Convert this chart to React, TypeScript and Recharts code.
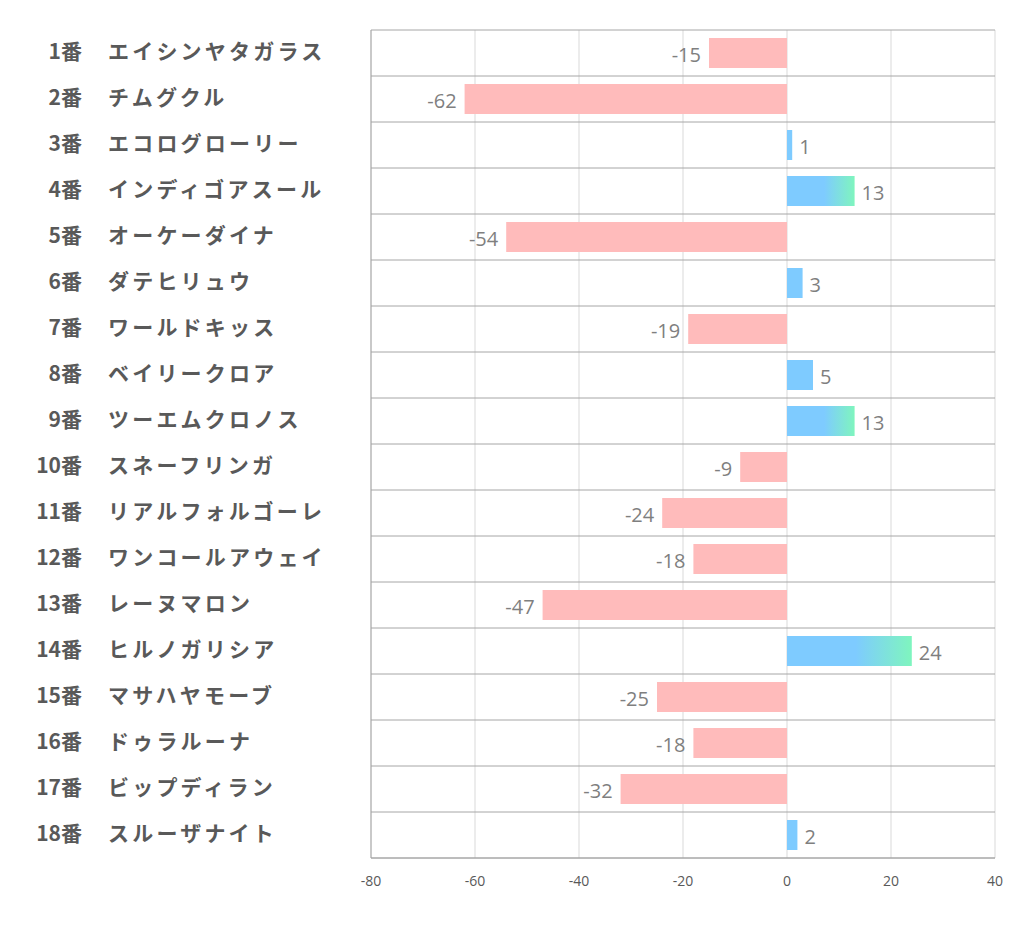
import React from 'react';
import { BarChart, Bar, XAxis, YAxis, CartesianGrid, Cell, LabelList } from 'recharts';

const horseNos = ['1番', '2番', '3番', '4番', '5番', '6番', '7番', '8番', '9番', '10番', '11番', '12番', '13番', '14番', '15番', '16番', '17番', '18番'];
const horseNames = [
  'エイシンヤタガラス', 'チムグクル', 'エコログローリー', 'インディゴアスール', 'オーケーダイナ', 'ダテヒリュウ',
  'ワールドキッス', 'ベイリークロア', 'ツーエムクロノス', 'スネーフリンガ', 'リアルフォルゴーレ', 'ワンコールアウェイ',
  'レーヌマロン', 'ヒルノガリシア', 'マサハヤモーブ', 'ドゥラルーナ', 'ビップディラン', 'スルーザナイト',
];
const values = [-15, -62, 1, 13, -54, 3, -19, 5, 13, -9, -24, -18, -47, 24, -25, -18, -32, 2];
const xTicks = [-80, -60, -40, -20, 0, 20, 40];

const data = horseNames.map((n, i) => ({ key: horseNos[i], name: n, value: values[i] }));

const PINK = '#FFBBBB';
const BLUE = '#7ECBFF';

const YTick = (props: any) => {
  const { y, payload } = props;
  const idx = horseNos.indexOf(payload.value);
  return (
    <g>
      <text x={74} y={y - 3} textAnchor="end" dominantBaseline="central" fill="#595959" fontSize={21} fontWeight="bold" fontFamily="'Noto Sans CJK JP', sans-serif">
        {horseNos[idx]}
      </text>
      <text x={100} y={y - 3} textAnchor="start" dominantBaseline="central" fill="#595959" fontSize={21} fontWeight="bold" letterSpacing={3.2} fontFamily="'Noto Sans CJK JP', sans-serif">
        {horseNames[idx]}
      </text>
    </g>
  );
};

const ValueLabel = (props: any) => {
  const { x, y, width, height, value } = props;
  const left = Math.min(x, x + width);
  const right = Math.max(x, x + width);
  const neg = value < 0;
  return (
    <text
      x={neg ? left - 8 : right + 7}
      y={y + height / 2 + 1}
      textAnchor={neg ? 'end' : 'start'}
      dominantBaseline="central"
      fill="#7f7f7f"
      fontSize={20}
      fontFamily="'Open Sans', sans-serif"
    >
      {value}
    </text>
  );
};

export default function App() {
  return (
    <BarChart
      width={1010}
      height={920}
      data={data}
      layout="vertical"
      margin={{ top: 22, right: 23, bottom: 40, left: 0 }}
    >
      <defs>
        <linearGradient id="posGrad" x1="0" y1="0" x2="1" y2="0">
          <stop offset="0%" stopColor={BLUE} />
          <stop offset="55%" stopColor={BLUE} />
          <stop offset="100%" stopColor="#7FF5BE" />
        </linearGradient>
      </defs>
      <CartesianGrid horizontal={false} stroke="#d9d9d9" />
      <CartesianGrid
        vertical={false}
        stroke="#a6a6a6"
        horizontalCoordinatesGenerator={(p: any) => {
          const top = p.offset.top;
          const h = p.offset.height;
          return Array.from({ length: 19 }, (_, i) => top + (i * h) / 18);
        }}
      />
      <XAxis
        type="number"
        domain={[-80, 40]}
        ticks={xTicks}
        tickLine={false}
        axisLine={{ stroke: '#a6a6a6' }}
        tick={{ fill: '#595959', fontSize: 14, fontFamily: "'Open Sans', sans-serif" }}
        tickMargin={12}
        height={30}
      />
      <YAxis
        type="category"
        dataKey="key"
        width={363}
        tickLine={false}
        axisLine={{ stroke: '#a6a6a6' }}
        tick={<YTick />}
        interval={0}
      />
      <Bar dataKey="value" barSize={30} isAnimationActive={false}>
        {data.map((d, i) => (
          <Cell key={i} fill={d.value < 0 ? PINK : d.value >= 10 ? 'url(#posGrad)' : BLUE} />
        ))}
        <LabelList dataKey="value" content={<ValueLabel />} />
      </Bar>
    </BarChart>
  );
}
